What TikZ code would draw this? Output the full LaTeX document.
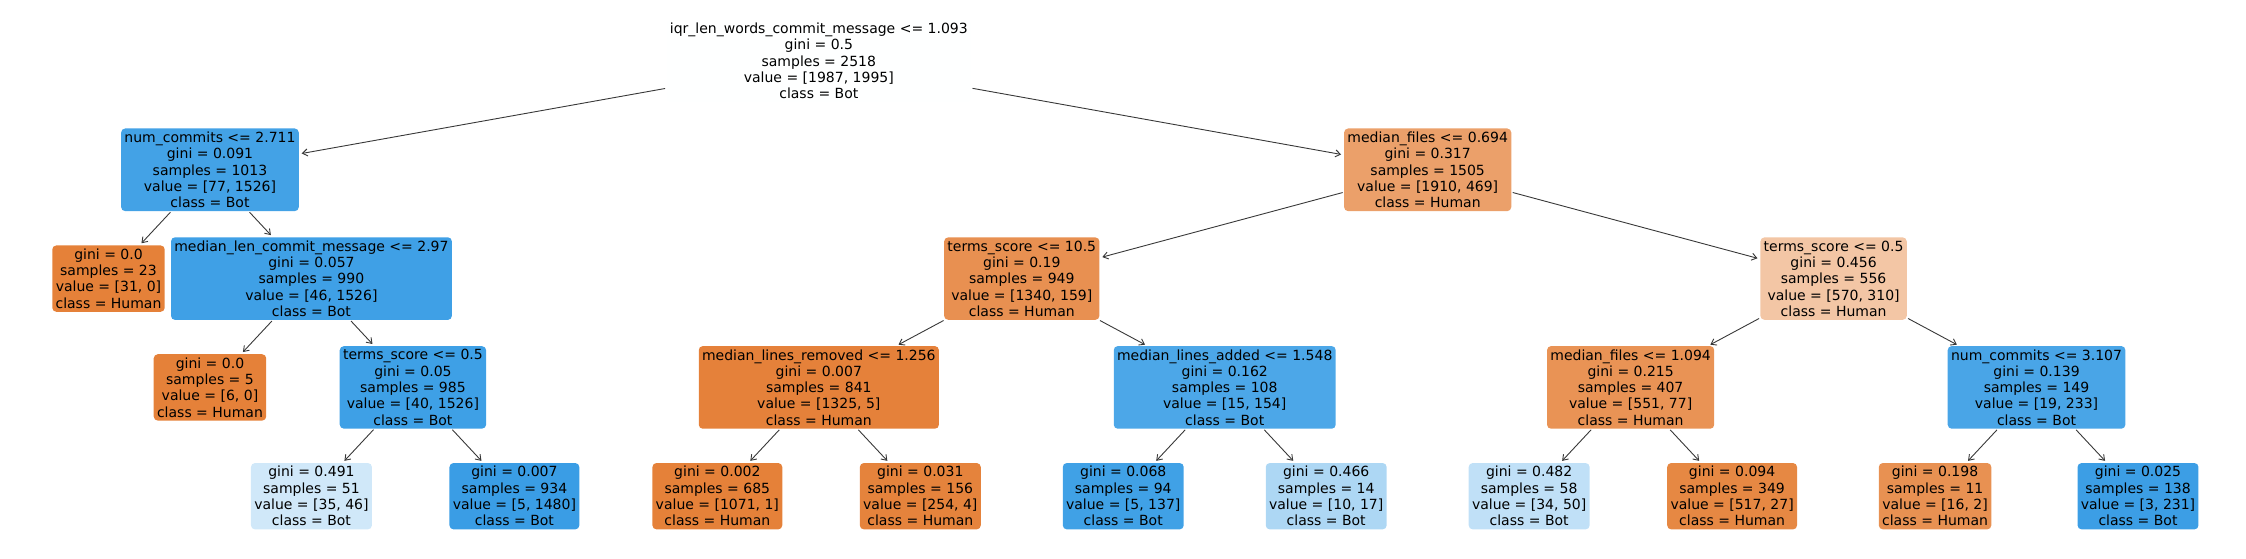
\documentclass[tikz,border=0pt]{standalone}
\usepackage{fontspec}
\setmainfont{DejaVu Sans}
\usetikzlibrary{arrows.meta}
\definecolor{human}{RGB}{229,129,57}
\definecolor{bot}{RGB}{57,157,229}

\begin{document}
\begin{tikzpicture}[x=101.475pt,y=-108.8pt,
  box/.style={rounded corners=4pt, align=center, inner xsep=3.3pt, inner ysep=3.3pt, outer sep=0pt,
    font=\fontsize{14pt}{16.3pt}\selectfont},
  edge/.style={draw=black!78, line width=0.9pt, -{Straight Barb[length=5pt,width=7pt]},
    shorten <=1.5pt, shorten >=3pt}]
\path[use as bounding box] (-108.5pt,61pt) rectangle (2137.5pt,-497pt);
% root and first split
\node[box, fill=bot!0.4] (root) at (7,0) {iqr\_len\_words\_commit\_message <= 1.093\\gini = 0.5\\samples = 2518\\value = [1987, 1995]\\class = Bot};
\node[box, fill=bot!95] (nc1) at (1,1) {num\_commits <= 2.711\\gini = 0.091\\samples = 1013\\value = [77, 1526]\\class = Bot};
\node[box, fill=human!75.5] (mf1) at (13,1) {median\_files <= 0.694\\gini = 0.317\\samples = 1505\\value = [1910, 469]\\class = Human};
% level 2
\node[box, fill=human] (l1) at (0,2) {gini = 0.0\\samples = 23\\value = [31, 0]\\class = Human};
\node[box, fill=bot!97] (mlc) at (2,2) {median\_len\_commit\_message <= 2.97\\gini = 0.057\\samples = 990\\value = [46, 1526]\\class = Bot};
\node[box, fill=human!88] (ts1) at (9,2) {terms\_score <= 10.5\\gini = 0.19\\samples = 949\\value = [1340, 159]\\class = Human};
\node[box, fill=human!45.6] (ts2) at (17,2) {terms\_score <= 0.5\\gini = 0.456\\samples = 556\\value = [570, 310]\\class = Human};
% level 3
\node[box, fill=human] (l2) at (1,3) {gini = 0.0\\samples = 5\\value = [6, 0]\\class = Human};
\node[box, fill=bot!97.4] (ts3) at (3,3) {terms\_score <= 0.5\\gini = 0.05\\samples = 985\\value = [40, 1526]\\class = Bot};
\node[box, fill=human!99.6] (mlr) at (7,3) {median\_lines\_removed <= 1.256\\gini = 0.007\\samples = 841\\value = [1325, 5]\\class = Human};
\node[box, fill=bot!90.3] (mla) at (11,3) {median\_lines\_added <= 1.548\\gini = 0.162\\samples = 108\\value = [15, 154]\\class = Bot};
\node[box, fill=human!86] (mf2) at (15,3) {median\_files <= 1.094\\gini = 0.215\\samples = 407\\value = [551, 77]\\class = Human};
\node[box, fill=bot!91.9] (nc2) at (19,3) {num\_commits <= 3.107\\gini = 0.139\\samples = 149\\value = [19, 233]\\class = Bot};
% leaves
\node[box, fill=bot!23.9] (l3) at (2,4) {gini = 0.491\\samples = 51\\value = [35, 46]\\class = Bot};
\node[box, fill=bot!99.7] (l4) at (4,4) {gini = 0.007\\samples = 934\\value = [5, 1480]\\class = Bot};
\node[box, fill=human!99.9] (l5) at (6,4) {gini = 0.002\\samples = 685\\value = [1071, 1]\\class = Human};
\node[box, fill=human!98.4] (l6) at (8,4) {gini = 0.031\\samples = 156\\value = [254, 4]\\class = Human};
\node[box, fill=bot!96.4] (l7) at (10,4) {gini = 0.068\\samples = 94\\value = [5, 137]\\class = Bot};
\node[box, fill=bot!41.2] (l8) at (12,4) {gini = 0.466\\samples = 14\\value = [10, 17]\\class = Bot};
\node[box, fill=bot!32] (l9) at (14,4) {gini = 0.482\\samples = 58\\value = [34, 50]\\class = Bot};
\node[box, fill=human!94.8] (l10) at (16,4) {gini = 0.094\\samples = 349\\value = [517, 27]\\class = Human};
\node[box, fill=human!87.5] (l11) at (18,4) {gini = 0.198\\samples = 11\\value = [16, 2]\\class = Human};
\node[box, fill=bot!98.7] (l12) at (20,4) {gini = 0.025\\samples = 138\\value = [3, 231]\\class = Bot};
% connectors
\foreach \a/\b in {root/nc1, root/mf1, nc1/l1, nc1/mlc, mlc/l2, mlc/ts3, ts3/l3, ts3/l4,
  mf1/ts1, mf1/ts2, ts1/mlr, ts1/mla, mlr/l5, mlr/l6, mla/l7, mla/l8,
  ts2/mf2, ts2/nc2, mf2/l9, mf2/l10, nc2/l11, nc2/l12}
  \draw[edge] (\a) -- (\b);
\end{tikzpicture}
\end{document}
